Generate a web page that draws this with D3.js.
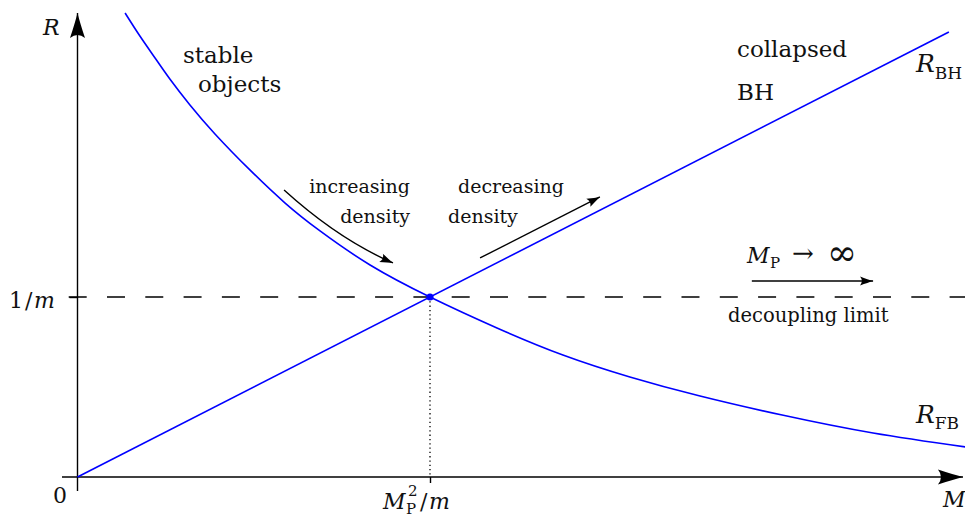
<!DOCTYPE html>
<html>
<head>
<meta charset="utf-8">
<script src="https://cdn.jsdelivr.net/npm/d3@7"></script>
<style>
  body { margin: 0; background: #fff; }
  svg text { font-family: "DejaVu Serif", serif; fill: #111; }
  .it { font-style: italic; }
</style>
</head>
<body>
<svg id="chart" width="965" height="518"></svg>
<script>
// mass M in units of M_P^2/m, radius R in units of 1/m
const bhMass   = [0, 2.472];
const bhRadius = [0, 2.472];

const fbMass   = [0.135, 0.177, 0.220, 0.262, 0.319, 0.390, 0.489, 0.589, 0.688, 0.830, 1.0, 1.190, 1.377, 1.567, 1.766, 1.999, 2.257, 2.518];
const fbRadius = [2.578, 2.450, 2.328, 2.211, 2.067, 1.906, 1.706, 1.522, 1.367, 1.178, 1.0, 0.828, 0.678, 0.556, 0.450, 0.344, 0.244, 0.167];

const crossMass   = [1];
const crossRadius = [1];
const decouplingRadius = 1;

const xTickValues = [1];
const yTickValues = [1];

// layout
const origin = {x: 77.5, y: 477};
const unit = {x: 352.5, y: 180};
const xAxisExtent = [-0.044, 2.512];
const yAxisExtent = [-0.078, 2.578];

const svg = d3.select("#chart");

const x = d3.scaleLinear().domain([0, 1]).range([origin.x, origin.x + unit.x]);
const y = d3.scaleLinear().domain([0, 1]).range([origin.y, origin.y - unit.y]);

// arrow heads
const defs = svg.append("defs");
defs.append("marker")
    .attr("id", "bigArrow")
    .attr("markerUnits", "userSpaceOnUse")
    .attr("viewBox", "-26 -9 28 18")
    .attr("markerWidth", 28).attr("markerHeight", 18)
    .attr("refX", 0).attr("refY", 0)
    .attr("orient", "auto")
  .append("path")
    .attr("d", "M0,0 Q-10,-2.5 -25,-7.5 Q-19,0 -25,7.5 Q-10,2.5 0,0Z")
    .attr("fill", "#000");
defs.append("marker")
    .attr("id", "smallArrow")
    .attr("markerUnits", "userSpaceOnUse")
    .attr("viewBox", "-14 -6 16 12")
    .attr("markerWidth", 16).attr("markerHeight", 12)
    .attr("refX", 0).attr("refY", 0)
    .attr("orient", "auto")
  .append("path")
    .attr("d", "M0,0 Q-5,-1.5 -13,-4.5 Q-9.5,0 -13,4.5 Q-5,1.5 0,0Z")
    .attr("fill", "#000");

// dashed decoupling line
svg.append("line")
    .attr("x1", x(-0.025)).attr("x2", 965)
    .attr("y1", y(decouplingRadius)).attr("y2", y(decouplingRadius))
    .attr("stroke", "#000")
    .attr("stroke-width", 1.7)
    .attr("stroke-dasharray", "18,20.3");

// dotted drop line
svg.append("line")
    .attr("x1", x(crossMass[0])).attr("x2", x(crossMass[0]))
    .attr("y1", y(crossRadius[0])).attr("y2", y(0))
    .attr("stroke", "#000")
    .attr("stroke-width", 1.3)
    .attr("stroke-dasharray", "1.3,3");

// ticks through d3 axes
svg.append("g")
    .attr("transform", "translate(0," + y(0) + ")")
    .call(d3.axisBottom(x).tickValues(xTickValues).tickSize(6).tickSizeOuter(0).tickFormat(""))
    .call(g => g.select(".domain").remove())
    .selectAll("line").attr("stroke", "#000").attr("stroke-width", 1.4);
svg.append("g")
    .attr("transform", "translate(" + x(0) + ",0)")
    .call(d3.axisLeft(y).tickValues(yTickValues).tickSize(8).tickSizeOuter(0).tickFormat(""))
    .call(g => g.select(".domain").remove())
    .selectAll("line").attr("stroke", "#000").attr("stroke-width", 1.4);

// axis lines
svg.append("line")
    .attr("x1", x(xAxisExtent[0])).attr("x2", x(xAxisExtent[1]))
    .attr("y1", y(0)).attr("y2", y(0))
    .attr("stroke", "#000").attr("stroke-width", 1.4)
    .attr("marker-end", "url(#bigArrow)");
svg.append("line")
    .attr("x1", x(0)).attr("x2", x(0))
    .attr("y1", y(yAxisExtent[0])).attr("y2", y(yAxisExtent[1]))
    .attr("stroke", "#000").attr("stroke-width", 1.4)
    .attr("marker-end", "url(#bigArrow)");

// curves
const line = d3.line()
    .x(d => x(d[0]))
    .y(d => y(d[1]))
    .curve(d3.curveNatural);

svg.append("path")
    .datum(d3.zip(bhMass, bhRadius))
    .attr("fill", "none")
    .attr("stroke", "#0000ff")
    .attr("stroke-width", 1.6)
    .attr("d", line);

svg.append("path")
    .datum(d3.zip(fbMass, fbRadius))
    .attr("fill", "none")
    .attr("stroke", "#0000ff")
    .attr("stroke-width", 1.6)
    .attr("d", line);

svg.selectAll("circle.cross")
    .data(d3.zip(crossMass, crossRadius))
    .enter().append("circle")
    .attr("class", "cross")
    .attr("cx", d => x(d[0]))
    .attr("cy", d => y(d[1]))
    .attr("r", 3.6)
    .attr("fill", "#0000ff");

// annotation arrows (in M,R units)
const p = d3.path();
p.moveTo(x(0.586), y(1.594));
p.quadraticCurveTo(x(0.739), y(1.322), x(0.895), y(1.189));
svg.append("path")
    .attr("d", p.toString())
    .attr("fill", "none").attr("stroke", "#000").attr("stroke-width", 1.4)
    .attr("marker-end", "url(#smallArrow)");

svg.append("line")
    .attr("x1", x(1.142)).attr("y1", y(1.217))
    .attr("x2", x(1.482)).attr("y2", y(1.556))
    .attr("stroke", "#000").attr("stroke-width", 1.4)
    .attr("marker-end", "url(#smallArrow)");

svg.append("line")
    .attr("x1", x(1.913)).attr("y1", y(1.089))
    .attr("x2", x(2.257)).attr("y2", y(1.089))
    .attr("stroke", "#000").attr("stroke-width", 1.4)
    .attr("marker-end", "url(#smallArrow)");

// text
function txt(px, py, s, size, cls, anchor) {
    return svg.append("text")
        .attr("x", px).attr("y", py)
        .attr("font-size", size)
        .attr("class", cls || null)
        .attr("text-anchor", anchor || "start")
        .text(s);
}

// axis labels
txt(43, 35, "R", 22, "it");
txt(943, 507, "M", 22, "it");
txt(53, 503, "0", 22);

// y tick label 1/m
txt(9, 308, "1", 22);
txt(25, 308, "/", 22);
txt(34, 308, "m", 22, "it");

// x tick label M_P^2/m
txt(383, 509, "M", 22, "it");
txt(408, 496, "2", 15);
txt(406, 514, "P", 15);
txt(420, 509, "/", 22);
txt(429, 509, "m", 22, "it");

// regions
txt(183, 63, "stable", 23);
txt(198, 92, "objects", 23);
txt(737, 57, "collapsed", 23);
txt(737, 100, "BH", 23);

// curve names
const rbh = txt(916, 72, "", 25);
rbh.append("tspan").attr("class", "it").text("R");
rbh.append("tspan").attr("font-size", 17).attr("dy", 7).text("BH");
const rfb = txt(916, 423, "", 25);
rfb.append("tspan").attr("class", "it").text("R");
rfb.append("tspan").attr("font-size", 17).attr("dy", 6).text("FB");

// density arrows
txt(410, 193, "increasing", 19, null, "end");
txt(410, 223, "density", 19, null, "end");
txt(458, 193, "decreasing", 19);
txt(448, 223, "density", 19);

// decoupling
txt(747, 263, "M", 22, "it");
txt(770, 268, "P", 15);
txt(792, 262, "\u2192", 26);
txt(827, 265, "\u221E", 36);
txt(728, 322, "decoupling limit", 19.5);
</script>
</body>
</html>
